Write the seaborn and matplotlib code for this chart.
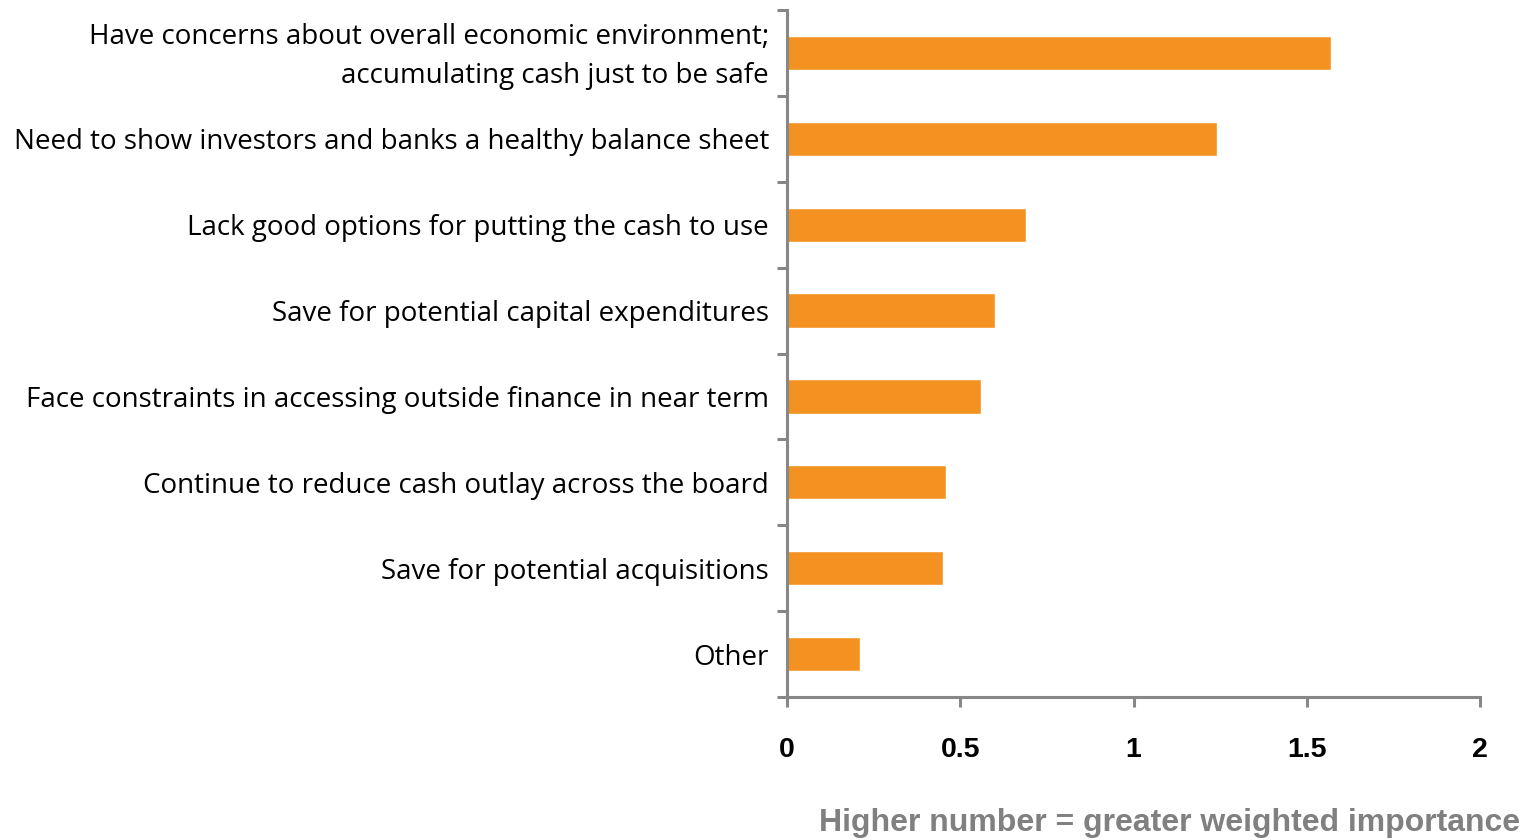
import matplotlib
matplotlib.use("Agg")
import matplotlib.pyplot as plt
from matplotlib.ticker import FixedLocator
from matplotlib.transforms import ScaledTranslation
import seaborn as sns
import pandas as pd

reasons = [
    "Have concerns about overall economic environment;\naccumulating cash just to be safe",
    "Need to show investors and banks a healthy balance sheet",
    "Lack good options for putting the cash to use",
    "Save for potential capital expenditures",
    "Face constraints in accessing outside finance in near term",
    "Continue to reduce cash outlay across the board",
    "Save for potential acquisitions",
    "Other",
]
scores = [1.57, 1.24, 0.69, 0.60, 0.56, 0.46, 0.45, 0.21]
x_ticks = [0, 0.5, 1, 1.5, 2]
x_tick_labels = ["0", "0.5", "1", "1.5", "2"]
x_caption = "Higher number = greater weighted importance"

df = pd.DataFrame({"reason": reasons, "score": scores})

sns.set_theme(style="white")
plt.rcParams["font.family"] = ["Open Sans", "DejaVu Sans"]

BAR = "#F39221"
SPINE = "#878787"

fig = plt.figure(figsize=(15.34, 8.4), dpi=100)
ax = fig.add_axes([787 / 1534, 1 - 697 / 840, (1480 - 787) / 1534, (697 - 10) / 840])

sns.barplot(data=df, y="reason", x="score", orient="h", color=BAR,
            saturation=1, width=0.4, ax=ax)

ax.set_xlim(0, 2)
ax.set_ylim(len(reasons) - 0.5, -0.5)

for side in ("top", "right"):
    ax.spines[side].set_visible(False)
for side in ("left", "bottom"):
    ax.spines[side].set_color(SPINE)
    ax.spines[side].set_linewidth(2.2)

# category labels on majors (no mark), separators on minors between categories
ax.yaxis.set_minor_locator(FixedLocator([i - 0.5 for i in range(len(reasons) + 1)]))
ax.tick_params(axis="y", which="major", length=0, pad=13, labelsize=20,
               labelcolor="black")
ax.tick_params(axis="y", which="minor", left=True, length=7.5, width=2.2,
               color=SPINE, direction="out")
for lbl in ax.get_yticklabels():
    lbl.set_linespacing(1.55)
    if "\n" in lbl.get_text():
        # centre the two-line label on its bar
        lbl.set_transform(lbl.get_transform()
                          + ScaledTranslation(0, 0.055, fig.dpi_scale_trans))

ax.set_xticks(x_ticks)
ax.set_xticklabels(x_tick_labels)
ax.tick_params(axis="x", which="major", bottom=True, length=7.5, width=2.2,
               color=SPINE, direction="out", pad=21)
for lbl in ax.get_xticklabels():
    lbl.set_fontfamily(["Liberation Sans Narrow", "Liberation Sans", "DejaVu Sans"])
    lbl.set_fontweight("bold")
    lbl.set_fontsize(20.5)
    lbl.set_color("black")

ax.set_xlabel("")
ax.set_ylabel("")

fig.text(1520 / 1534, 1 - 823 / 840, x_caption, ha="right", va="center",
         fontsize=23, fontweight="bold", color="#808080",
         family=["Liberation Sans Narrow", "Liberation Sans", "DejaVu Sans"])

fig.savefig("out.png", dpi=100)
